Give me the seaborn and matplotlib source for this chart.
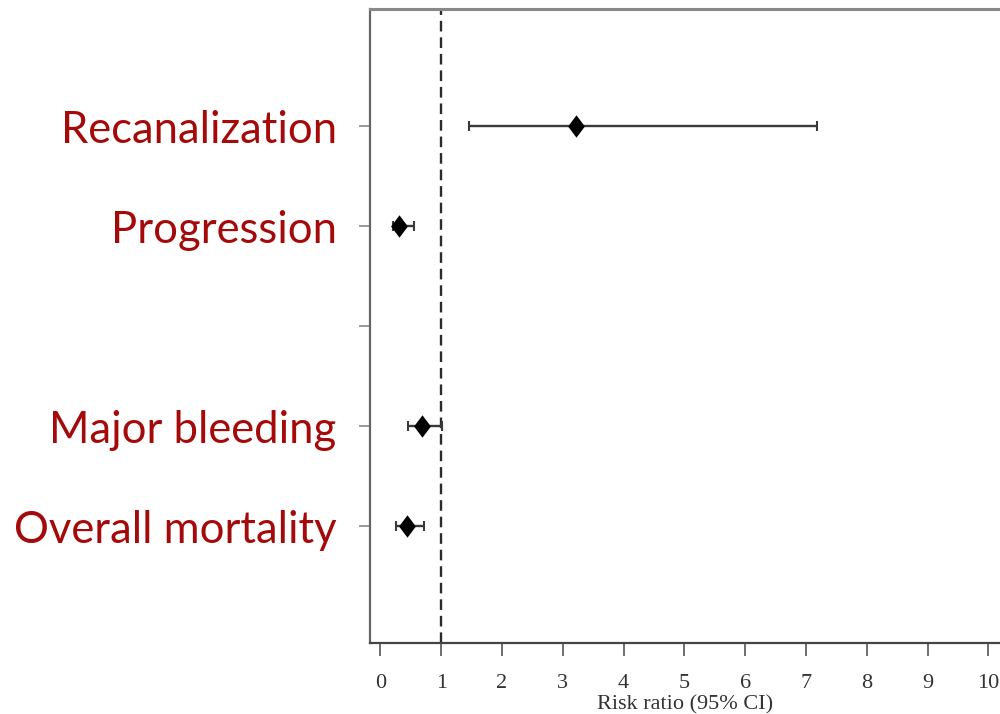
import matplotlib
matplotlib.use("Agg")
import matplotlib.pyplot as plt
import seaborn as sns
import numpy as np
import pandas as pd

# ---- data ----
rows = ["Recanalization", "Progression", "", "Major bleeding", "Overall mortality"]
outcomes = ["Recanalization", "Progression", "Major bleeding", "Overall mortality"]
risk_ratio = [3.21, 0.31, 0.69, 0.43]
ci_low = [1.46, 0.20, 0.46, 0.26]
ci_high = [7.18, 0.55, 1.01, 0.72]
x_ticks = [0, 1, 2, 3, 4, 5, 6, 7, 8, 9, 10]
x_label = "Risk ratio (95% CI)"

sns.set_style("ticks")
plt.rcParams["font.family"] = ["Liberation Serif", "DejaVu Serif"]

df = pd.DataFrame({"outcome": outcomes, "rr": risk_ratio, "lo": ci_low, "hi": ci_high})
df["ypos"] = [rows.index(o) for o in df["outcome"]]

fig = plt.figure(figsize=(10, 7.14), dpi=100)
ax = fig.add_axes([0.37, 0.0994, 0.63, 0.888])

# reference line
ax.axvline(1, color="#2b2b2b", lw=1.7, dashes=(4.5, 2.5), zorder=1)

# confidence intervals
ax.errorbar(df["rr"], df["ypos"],
            xerr=[df["rr"] - df["lo"], df["hi"] - df["rr"]],
            fmt="none", ecolor="#3a3a3a", elinewidth=1.7, capsize=3.5,
            capthick=1.5, zorder=2)

# point estimates
diamond = [(0, 1), (0.75, 0), (0, -1), (-0.75, 0), (0, 1)]
sns.scatterplot(data=df, x="rr", y="ypos", marker=diamond, s=260,
                color="black", edgecolor="black", linewidth=0, ax=ax, zorder=3)

ax.set_xlim(-0.172, 10.19)
ax.set_ylim(len(rows) - 1 + 1.17, -1.17)

ax.set_xticks(x_ticks)
ax.set_xticklabels([str(t) for t in x_ticks], fontsize=16, color="#333333")
ax.set_yticks(range(len(rows)))
ax.set_yticklabels(rows, fontsize=31.4, color="#A50A0A", family=["Lato", "DejaVu Sans"])

ax.tick_params(axis="x", direction="out", length=9, width=1.2, color="#555555", pad=13)
ax.tick_params(axis="y", direction="out", length=8, width=1.2, color="#888888", pad=16)

ax.set_xlabel(x_label, fontsize=16, color="#333333", labelpad=2)
ax.set_ylabel("")

for side in ["left", "top", "bottom"]:
    ax.spines[side].set_visible(True)
    ax.spines[side].set_color("#666666")
    ax.spines[side].set_linewidth(1.6)
ax.spines["bottom"].set_color("#444444")
ax.spines["top"].set_linewidth(2.2)
ax.spines["top"].set_color("#888888")
ax.spines["right"].set_visible(False)

fig.savefig("out.png", dpi=100, facecolor="white")
